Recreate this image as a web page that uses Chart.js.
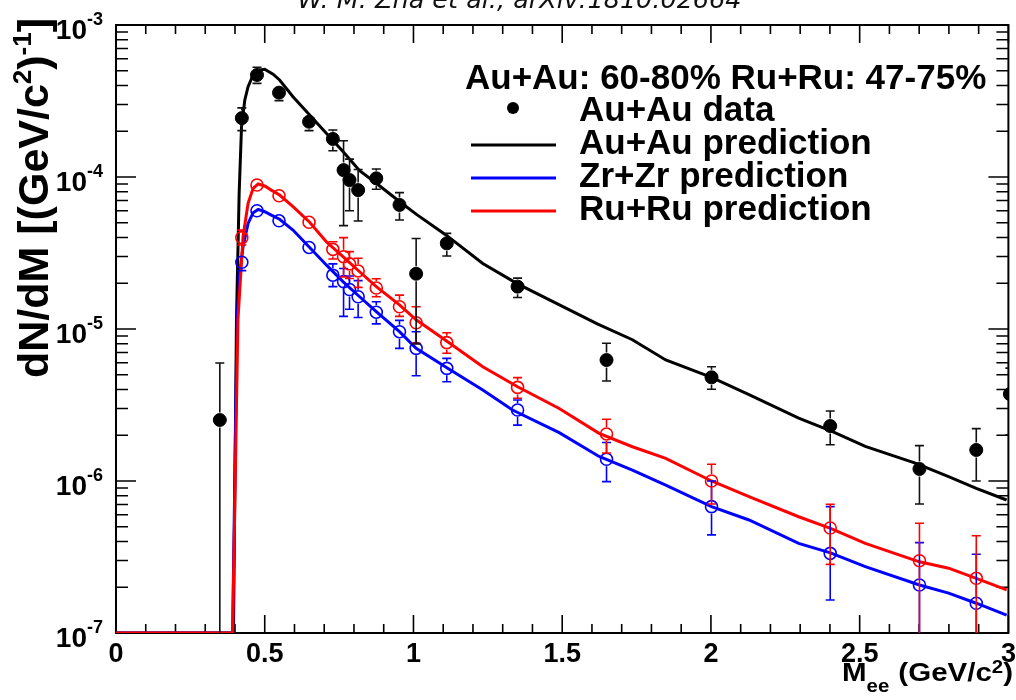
<!DOCTYPE html>
<html>
<head>
<meta charset="utf-8">
<title>Dielectron mass spectra</title>
<script src="https://cdn.jsdelivr.net/npm/chart.js@4.4.1/dist/chart.umd.min.js"></script>
<style>
  html, body { margin: 0; padding: 0; background: #fff; }
  #wrap { width: 1016px; height: 700px; position: relative; }
</style>
</head>
<body>
<div id="wrap"><canvas id="massChart"></canvas></div>
<script>
// model curves (x in GeV/c^2)
const auPredX = [0, 0.395, 0.405, 0.414, 0.422, 0.433, 0.444, 0.461, 0.483, 0.50, 0.528, 0.55, 0.595, 0.651, 0.707, 0.763, 0.819, 0.875, 0.953, 1.009, 1.109, 1.233, 1.35, 1.479, 1.618, 1.736, 1.848, 2.002, 2.128, 2.295, 2.407, 2.519, 2.687, 2.799, 2.892, 2.994];
const auPredY = [1e-7, 1e-7, 1.15e-5, 7.8e-5, 2.14e-4, 3.21e-4, 3.93e-4, 4.69e-4, 5.06e-4, 5.12e-4, 4.75e-4, 4.35e-4, 3.37e-4, 2.56e-4, 1.94e-4, 1.47e-4, 1.1e-4, 9.1e-5, 6.9e-5, 5.7e-5, 4.16e-5, 2.7e-5, 1.98e-5, 1.48e-5, 1.08e-5, 8.5e-6, 6.26e-6, 4.8e-6, 3.7e-6, 2.59e-6, 2.12e-6, 1.69e-6, 1.31e-6, 1.07e-6, 8.95e-7, 7.5e-7];

const ruPredX = [0, 0.392, 0.410, 0.427, 0.444, 0.461, 0.478, 0.50, 0.522, 0.55, 0.595, 0.651, 0.707, 0.763, 0.819, 0.875, 0.953, 1.009, 1.115, 1.233, 1.35, 1.49, 1.624, 1.736, 1.848, 2.002, 2.128, 2.295, 2.402, 2.519, 2.701, 2.799, 2.892, 2.994];
const ruPredY = [1e-7, 1e-7, 1.15e-5, 4.05e-5, 6.71e-5, 8.43e-5, 9.0e-5, 8.73e-5, 8.2e-5, 7.61e-5, 6.38e-5, 5.04e-5, 3.75e-5, 2.99e-5, 2.38e-5, 1.9e-5, 1.44e-5, 1.15e-5, 8.24e-6, 5.65e-6, 4.17e-6, 3.0e-6, 2.06e-6, 1.68e-6, 1.41e-6, 1.0e-6, 7.88e-7, 5.82e-7, 4.88e-7, 3.89e-7, 2.94e-7, 2.67e-7, 2.29e-7, 1.92e-7];

const zrPredX = [0, 0.392, 0.407, 0.416, 0.427, 0.444, 0.461, 0.478, 0.50, 0.522, 0.55, 0.595, 0.651, 0.707, 0.763, 0.819, 0.875, 0.953, 1.009, 1.115, 1.233, 1.333, 1.49, 1.624, 1.736, 1.848, 2.002, 2.128, 2.295, 2.402, 2.519, 2.701, 2.799, 2.892, 2.994];
const zrPredY = [1e-7, 1e-7, 1.15e-5, 2.32e-5, 3.47e-5, 4.95e-5, 5.82e-5, 6.12e-5, 5.91e-5, 5.62e-5, 5.27e-5, 4.48e-5, 3.44e-5, 2.64e-5, 2.05e-5, 1.63e-5, 1.3e-5, 9.6e-6, 7.46e-6, 5.51e-6, 3.97e-6, 2.93e-6, 2.08e-6, 1.45e-6, 1.18e-6, 9.41e-7, 6.78e-7, 5.54e-7, 3.89e-7, 3.37e-7, 2.73e-7, 2.07e-7, 1.83e-7, 1.57e-7, 1.31e-7];

// Au+Au measured points with upper / lower error ends (0 = below the axis)
const auX  = [0.349, 0.423, 0.474, 0.548, 0.649, 0.729, 0.765, 0.785, 0.814, 0.875, 0.953, 1.009, 1.112, 1.35, 1.649, 2.002, 2.401, 2.701, 2.892, 3.005];
const auY  = [2.52e-6, 2.44e-4, 4.69e-4, 3.59e-4, 2.31e-4, 1.78e-4, 1.11e-4, 9.55e-5, 8.2e-5, 9.8e-5, 6.55e-5, 2.31e-5, 3.66e-5, 1.9e-5, 6.25e-6, 4.81e-6, 2.3e-6, 1.2e-6, 1.6e-6, 3.73e-6];
const auHi = [5.97e-6, 2.85e-4, 5.27e-4, 3.93e-4, 2.58e-4, 2.04e-4, 1.73e-4, 1.31e-4, 1.12e-4, 1.13e-4, 7.89e-5, 3.94e-5, 4.26e-5, 2.16e-5, 8.05e-6, 5.65e-6, 2.89e-6, 1.71e-6, 2.21e-6, 5.53e-6];
const auLo = [0, 2.02e-4, 4.13e-4, 3.18e-4, 2.02e-4, 1.49e-4, 4.79e-5, 6.0e-5, 5.14e-5, 8.3e-5, 5.21e-5, 7.96e-6, 3.02e-5, 1.61e-5, 4.55e-6, 4.01e-6, 1.73e-6, 7.06e-7, 1.0e-6, 2.01e-6];

// isobar projections at the same masses
const isoX = [0.423, 0.474, 0.548, 0.649, 0.729, 0.765, 0.785, 0.814, 0.875, 0.953, 1.009, 1.112, 1.35, 1.649, 2.002, 2.401, 2.701, 2.892];
const ruY  = [3.99e-5, 8.86e-5, 7.53e-5, 5.04e-5, 3.34e-5, 2.99e-5, 2.68e-5, 2.41e-5, 1.86e-5, 1.4e-5, 1.1e-5, 8.13e-6, 4.13e-6, 2.04e-6, 1.0e-6, 4.91e-7, 2.99e-7, 2.29e-7];
const ruHi = [4.47e-5, 9.3e-5, 7.9e-5, 5.3e-5, 3.75e-5, 3.99e-5, 3.23e-5, 2.92e-5, 2.14e-5, 1.67e-5, 1.4e-5, 9.45e-6, 4.79e-6, 2.55e-6, 1.29e-6, 7.03e-7, 5.27e-7, 4.36e-7];
const ruLo = [3.57e-5, 8.4e-5, 7.2e-5, 4.8e-5, 2.89e-5, 2.2e-5, 2.15e-5, 1.88e-5, 1.63e-5, 1.21e-5, 8.05e-6, 6.92e-6, 3.5e-6, 1.53e-6, 7.06e-7, 2.83e-7, 0, 0];
const zrY  = [2.75e-5, 6.0e-5, 5.15e-5, 3.44e-5, 2.26e-5, 2.05e-5, 1.82e-5, 1.63e-5, 1.29e-5, 9.6e-6, 7.46e-6, 5.51e-6, 2.93e-6, 1.39e-6, 6.78e-7, 3.34e-7, 2.07e-7, 1.57e-7];
const zrHi = [3.0e-5, 6.3e-5, 5.4e-5, 3.6e-5, 2.68e-5, 2.5e-5, 2.23e-5, 2.08e-5, 1.51e-5, 1.14e-5, 9.6e-6, 6.41e-6, 3.41e-6, 1.79e-6, 1.0e-6, 6.78e-7, 3.93e-7, 3.3e-7];
const zrLo = [2.42e-5, 5.7e-5, 4.9e-5, 3.3e-5, 1.9e-5, 1.21e-5, 1.35e-5, 1.19e-5, 1.08e-5, 7.46e-6, 4.93e-6, 4.5e-6, 2.33e-6, 9.9e-7, 4.42e-7, 1.65e-7, 0, 0];

// axis labels
const xTickValues = [0, 0.5, 1, 1.5, 2, 2.5, 3];
const xTickLabels = ["0", "0.5", "1", "1.5", "2", "2.5", "3"];
const yTickPowers = [-7, -6, -5, -4, -3];

const legendHeader = "Au+Au: 60-80% Ru+Ru: 47-75%";
const legendLabels = ["Au+Au data", "Au+Au prediction", "Zr+Zr prediction", "Ru+Ru prediction"];
const citation = "W. M. Zha et al., arXiv:1810.02664";

const FONT = '"Liberation Sans", Arial, Helvetica, sans-serif';
const BLUE = "#0000ff", RED = "#ff0000", BLACK = "#000000";

const pts = (xs, ys) => xs.map((x, i) => ({ x, y: ys[i] }));

// draw a run of text pieces (main / sub / superscript) one after another
function richWidth(ctx, parts) {
  return parts.reduce((w, p) => { ctx.font = p.font; return w + ctx.measureText(p.text).width + (p.gap || 0); }, 0);
}
function drawRich(ctx, parts, x, y) {
  parts.forEach(p => {
    ctx.font = p.font;
    ctx.fillText(p.text, x, y + (p.dy || 0));
    x += ctx.measureText(p.text).width + (p.gap || 0);
  });
}

// vertical error bars, drawn under the markers
const errorBars = {
  id: "errorBars",
  beforeDatasetDraw(chart, args) {
    const ds = chart.data.datasets[args.index];
    if (!ds.errHi) return;
    const { ctx, chartArea: a } = chart;
    const xs = chart.scales.x, ys = chart.scales.y;
    const r = ds.pointRadius + 1;
    ctx.save();
    ctx.beginPath();
    ctx.rect(a.left, a.top, a.right - a.left, a.bottom - a.top);
    ctx.clip();
    ctx.strokeStyle = ds.errColor;
    ctx.lineWidth = 1.6;
    ds.data.forEach((p, i) => {
      const x = xs.getPixelForValue(p.x);
      const y = ys.getPixelForValue(p.y);
      const yHi = ys.getPixelForValue(ds.errHi[i]);
      const yLo = ds.errLo[i] > 0 ? ys.getPixelForValue(ds.errLo[i]) : a.bottom + 20;
      ctx.beginPath();
      if (y - yHi > r) {
        ctx.moveTo(x, y - r); ctx.lineTo(x, yHi);
        ctx.moveTo(x - 4.5, yHi); ctx.lineTo(x + 4.5, yHi);
      }
      if (yLo - y > r) {
        ctx.moveTo(x, y + r); ctx.lineTo(x, yLo);
        ctx.moveTo(x - 4.5, yLo); ctx.lineTo(x + 4.5, yLo);
      }
      ctx.stroke();
    });
    ctx.restore();
  }
};

// frame with inward ticks on all four sides, under the curves
const frameTicks = {
  id: "frameTicks",
  beforeDatasetsDraw(chart) {
    const { ctx, chartArea: a } = chart;
    const xs = chart.scales.x, ys = chart.scales.y;
    ctx.save();
    ctx.strokeStyle = BLACK;
    ctx.lineWidth = 1.6;

    // x ticks: every 0.1, long on the labelled ones
    ctx.beginPath();
    for (let i = 0; i <= 30; i++) {
      const x = xs.getPixelForValue(i / 10);
      const len = i % 5 === 0 ? 18 : 9;
      ctx.moveTo(x, a.bottom); ctx.lineTo(x, a.bottom - len);
      ctx.moveTo(x, a.top); ctx.lineTo(x, a.top + len);
    }
    // log y ticks
    for (let d = yTickPowers[0]; d < yTickPowers[yTickPowers.length - 1]; d++) {
      for (let m = 1; m <= 9; m++) {
        const y = ys.getPixelForValue(m * Math.pow(10, d));
        const len = m === 1 ? 20 : 12;
        ctx.moveTo(a.left, y); ctx.lineTo(a.left + len, y);
        ctx.moveTo(a.right, y); ctx.lineTo(a.right - len, y);
      }
    }
    ctx.stroke();

    ctx.lineWidth = 2;
    ctx.strokeRect(a.left, a.top, a.right - a.left, a.bottom - a.top);
    ctx.restore();
  }
};

// tick labels, axis titles, citation and legend
const labels = {
  id: "labels",
  afterDraw(chart) {
    const { ctx, chartArea: a } = chart;
    const xs = chart.scales.x, ys = chart.scales.y;
    ctx.save();
    ctx.fillStyle = BLACK;
    ctx.textBaseline = "alphabetic";

    // x tick labels
    ctx.font = "bold 27px " + FONT;
    ctx.textAlign = "center";
    xTickValues.forEach((v, i) => ctx.fillText(xTickLabels[i], xs.getPixelForValue(v), a.bottom + 29));

    // y tick labels 10^n
    ctx.textAlign = "left";
    yTickPowers.forEach(p => {
      const y = ys.getPixelForValue(Math.pow(10, p));
      const parts = [
        { text: "10", font: "bold 28px " + FONT, dy: 14 },
        { text: String(p), font: "bold 18px " + FONT, dy: 0 }
      ];
      drawRich(ctx, parts, a.left - 13 - richWidth(ctx, parts), y);
    });

    // x title, right-aligned to the axis end
    const xt = [
      { text: "M", font: "bold 26px " + FONT },
      { text: "ee", font: "bold 18px " + FONT, dy: 11, gap: 8 },
      { text: "(GeV/c", font: "bold 26px " + FONT },
      { text: "2", font: "bold 18px " + FONT, dy: -8 },
      { text: ")", font: "bold 26px " + FONT }
    ];
    const xtW = richWidth(ctx, xt);
    ctx.save();
    ctx.translate(1013 - 171, 681);
    ctx.scale(171 / xtW, 1);
    drawRich(ctx, xt, 0, 0);
    ctx.restore();

    // y title, rotated
    const yt = [
      { text: "dN/dM [(GeV/c", font: "bold 43px " + FONT },
      { text: "2", font: "bold 26px " + FONT, dy: -17 },
      { text: ")", font: "bold 43px " + FONT },
      { text: "-1", font: "bold 26px " + FONT, dy: -17 },
      { text: "]", font: "bold 43px " + FONT }
    ];
    ctx.save();
    ctx.translate(48, 378);
    ctx.rotate(-Math.PI / 2);
    drawRich(ctx, yt, 0, 0);
    ctx.restore();

    // citation line across the top
    ctx.font = 'italic 24px "DejaVu Sans", sans-serif';
    const cw = ctx.measureText(citation).width;
    ctx.save();
    ctx.translate(519.5, 8);
    ctx.scale(444 / cw, 1);
    ctx.textAlign = "center";
    ctx.fillStyle = "#111";
    ctx.fillText(citation, 0, 0);
    ctx.restore();

    // legend
    ctx.textAlign = "left";
    ctx.font = "bold 35px " + FONT;
    ctx.fillText(legendHeader, 465, 89);
    const rows = [121, 154, 187, 220];
    legendLabels.forEach((t, i) => ctx.fillText(t, 579, rows[i]));
    ctx.beginPath();
    ctx.arc(513, 108, 6, 0, Math.PI * 2);
    ctx.fill();
    [BLACK, BLUE, RED].forEach((c, i) => {
      ctx.strokeStyle = c;
      ctx.lineWidth = 3;
      ctx.beginPath();
      ctx.moveTo(471, rows[i + 1] - 9);
      ctx.lineTo(556, rows[i + 1] - 9);
      ctx.stroke();
    });
    ctx.restore();
  }
};

const curve = (label, xs, ys, color, order) => ({
  label, data: pts(xs, ys), showLine: true, borderColor: color, borderWidth: 3,
  pointRadius: 0, tension: 0, fill: false, order
});
const markers = (label, xs, ys, hi, lo, color, filled, order) => ({
  label, data: pts(xs, ys), showLine: false,
  pointRadius: filled ? 6.5 : 6, pointBorderWidth: filled ? 1 : 1.6,
  pointBackgroundColor: filled ? color : "rgba(0,0,0,0)", pointBorderColor: color,
  errHi: hi, errLo: lo, errColor: filled ? "#111" : color, order, clip: 0
});

new Chart(document.getElementById("massChart"), {
  type: "scatter",
  data: {
    datasets: [
      markers("Au+Au data", auX, auY, auHi, auLo, BLACK, true, 0),
      markers("Ru+Ru", isoX, ruY, ruHi, ruLo, RED, false, 1),
      markers("Zr+Zr", isoX, zrY, zrHi, zrLo, BLUE, false, 2),
      curve("Ru+Ru prediction", ruPredX, ruPredY, RED, 3),
      curve("Zr+Zr prediction", zrPredX, zrPredY, BLUE, 4),
      curve("Au+Au prediction", auPredX, auPredY, BLACK, 5)
    ]
  },
  options: {
    responsive: true,
    maintainAspectRatio: false,
    animation: false,
    events: [],
    layout: { padding: { left: 116, right: 6, top: 25, bottom: 67 } },
    plugins: { legend: { display: false }, tooltip: { enabled: false } },
    scales: {
      x: { type: "linear", min: 0, max: 3, display: false },
      y: { type: "logarithmic", min: 1e-7, max: 1e-3, display: false }
    }
  },
  plugins: [frameTicks, errorBars, labels]
});
</script>
</body>
</html>
